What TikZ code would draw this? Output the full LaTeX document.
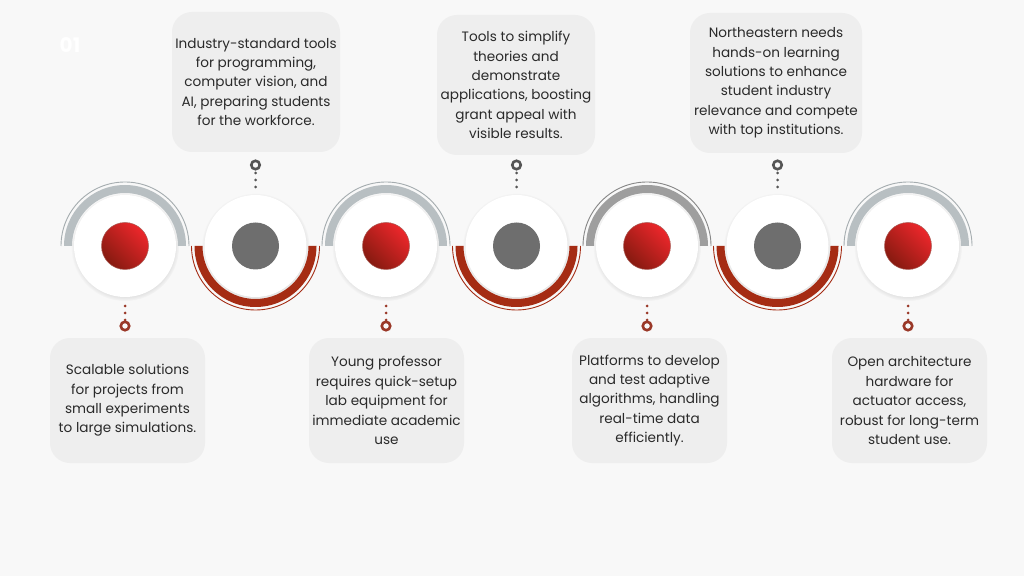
\documentclass[tikz,border=0pt]{standalone}
\usepackage{fontspec}
\setmainfont{Poppins}
\usetikzlibrary{shadows}
\definecolor{pagebg}{HTML}{F8F8F8}
\definecolor{boxfill}{HTML}{EEEEEE}
\definecolor{textcol}{HTML}{2A2A2A}
\definecolor{redlight}{HTML}{EC272B}
\definecolor{redmid}{HTML}{D22222}
\definecolor{reddark}{HTML}{861A10}
\definecolor{dotgray}{HTML}{6E6E6E}
\definecolor{bandlight}{HTML}{B8BFC2}
\definecolor{banddark}{HTML}{9E9E9E}
\definecolor{bandred}{HTML}{A52C14}
\definecolor{ringred}{HTML}{9A3828}
\definecolor{ringgray}{HTML}{555555}

\begin{document}
\begin{tikzpicture}[x=1pt,y=1pt,
    whitedot/.style={circle,fill=white,minimum size=102pt,inner sep=0pt,outer sep=0pt,
      circular drop shadow={shadow xshift=0pt,shadow yshift=-1pt,shadow scale=1.06,opacity=0.3}},
    reddot/.style={circle,minimum size=47pt,inner sep=0pt,outer sep=0pt,
      left color=redlight,middle color=redmid,right color=reddark,shading angle=-45,draw=reddark!70,line width=0.5pt},
    graydot/.style={circle,minimum size=47pt,inner sep=0pt,outer sep=0pt,fill=dotgray},
    ring/.style={circle,draw=#1,line width=2.6pt,minimum size=8.5pt,inner sep=0pt,outer sep=0pt},
    infobox/.style={rounded corners=20pt,fill=boxfill,inner sep=0pt,align=center,text=textcol,
      font=\fontsize{13.6}{19.4}\selectfont},
    dotline/.style={draw=#1,line width=3pt,line cap=round,dash pattern=on 0pt off 7pt}]
  \useasboundingbox (0,0) rectangle (1024,576);
  \fill[pagebg] (0,0) rectangle (1024,576);
  \node[text=white,font=\bfseries\fontsize{20}{20}\selectfont] (num) at (70,531) {01};

  % circles
  \node[whitedot] (c1) at (125,330) {};
  \node[whitedot] (c2) at (255.5,330) {};
  \node[whitedot] (c3) at (386,330) {};
  \node[whitedot] (c4) at (516.5,330) {};
  \node[whitedot] (c5) at (647,330) {};
  \node[whitedot] (c6) at (777.5,330) {};
  \node[whitedot] (c7) at (908,330) {};
  \node[reddot] (d1) at (c1) {};
  \node[graydot] (d2) at (c2) {};
  \node[reddot] (d3) at (c3) {};
  \node[graydot] (d4) at (c4) {};
  \node[reddot] (d5) at (c5) {};
  \node[graydot] (d6) at (c6) {};
  \node[reddot] (d7) at (c7) {};

  % bands
  \fill[bandlight] (c1.center) ++(53,0) arc[start angle=0,end angle=180,radius=53] -- ++(-8,0) arc[start angle=180,end angle=0,radius=61] -- cycle;
  \draw[bandlight!90!black,line width=0.9pt] (c1.center) ++(64,0) arc[start angle=0,end angle=180,radius=64];
  \fill[bandlight] (c3.center) ++(53,0) arc[start angle=0,end angle=180,radius=53] -- ++(-8,0) arc[start angle=180,end angle=0,radius=61] -- cycle;
  \draw[bandlight!90!black,line width=0.9pt] (c3.center) ++(64,0) arc[start angle=0,end angle=180,radius=64];
  \fill[banddark] (c5.center) ++(53,0) arc[start angle=0,end angle=180,radius=53] -- ++(-8,0) arc[start angle=180,end angle=0,radius=61] -- cycle;
  \draw[banddark!85!black,line width=0.9pt] (c5.center) ++(64,0) arc[start angle=0,end angle=180,radius=64];
  \fill[bandlight] (c7.center) ++(53,0) arc[start angle=0,end angle=180,radius=53] -- ++(-8,0) arc[start angle=180,end angle=0,radius=61] -- cycle;
  \draw[bandlight!90!black,line width=0.9pt] (c7.center) ++(64,0) arc[start angle=0,end angle=180,radius=64];
  \fill[bandred] (c2.center) ++(-53,0) arc[start angle=180,end angle=360,radius=53] -- ++(8,0) arc[start angle=360,end angle=180,radius=61] -- cycle;
  \draw[bandred,line width=0.9pt] (c2.center) ++(-64,0) arc[start angle=180,end angle=360,radius=64];
  \fill[bandred] (c4.center) ++(-53,0) arc[start angle=180,end angle=360,radius=53] -- ++(8,0) arc[start angle=360,end angle=180,radius=61] -- cycle;
  \draw[bandred,line width=0.9pt] (c4.center) ++(-64,0) arc[start angle=180,end angle=360,radius=64];
  \fill[bandred] (c6.center) ++(-53,0) arc[start angle=180,end angle=360,radius=53] -- ++(8,0) arc[start angle=360,end angle=180,radius=61] -- cycle;
  \draw[bandred,line width=0.9pt] (c6.center) ++(-64,0) arc[start angle=180,end angle=360,radius=64];

  % rings
  \node[ring=ringred] (r1) at (125,250) {};
  \node[ring=ringgray] (r2) at (255.5,411) {};
  \node[ring=ringred] (r3) at (386,250) {};
  \node[ring=ringgray] (r4) at (516.5,411) {};
  \node[ring=ringred] (r5) at (647,250) {};
  \node[ring=ringgray] (r6) at (777.5,411) {};
  \node[ring=ringred] (r7) at (908,250) {};
  \draw[dotline=ringred,shorten <=9pt,shorten >=1.5pt] (c1) -- (r1);
  \draw[dotline=ringgray,shorten <=8pt,shorten >=3.5pt] (c2) -- (r2);
  \draw[dotline=ringred,shorten <=9pt,shorten >=1.5pt] (c3) -- (r3);
  \draw[dotline=ringgray,shorten <=8pt,shorten >=3.5pt] (c4) -- (r4);
  \draw[dotline=ringred,shorten <=9pt,shorten >=1.5pt] (c5) -- (r5);
  \draw[dotline=ringgray,shorten <=8pt,shorten >=3.5pt] (c6) -- (r6);
  \draw[dotline=ringred,shorten <=9pt,shorten >=1.5pt] (c7) -- (r7);

  % text boxes
  \node[infobox,minimum width=168pt,minimum height=140pt] (t2) at (256,494) {Industry-standard tools\\for programming,\\computer vision, and\\AI, preparing students\\for the workforce.};
  \node[infobox,minimum width=158pt,minimum height=140pt] (t4) at (516,491) {Tools to simplify\\theories and\\demonstrate\\applications, boosting\\grant appeal with\\visible results.};
  \node[infobox,minimum width=172pt,minimum height=140pt] (t6) at (776,493) {Northeastern needs\\hands-on learning\\solutions to enhance\\student industry\\relevance and compete\\with top institutions.};
  \node[infobox,minimum width=155pt,minimum height=125pt] (t1) at (127.5,175.5) {Scalable solutions\\for projects from\\small experiments\\to large simulations.};
  \node[infobox,minimum width=155pt,minimum height=125pt] (t3) at (386.5,175.5) {Young professor\\requires quick-setup\\lab equipment for\\immediate academic\\use};
  \node[infobox,minimum width=155pt,minimum height=125pt] (t5) at (649.5,175.5) {Platforms to develop\\and test adaptive\\algorithms, handling\\real-time data\\efficiently.};
  \node[infobox,minimum width=155pt,minimum height=125pt] (t7) at (909.5,175.5) {Open architecture\\hardware for\\actuator access,\\robust for long-term\\student use.};
\end{tikzpicture}
\end{document}
